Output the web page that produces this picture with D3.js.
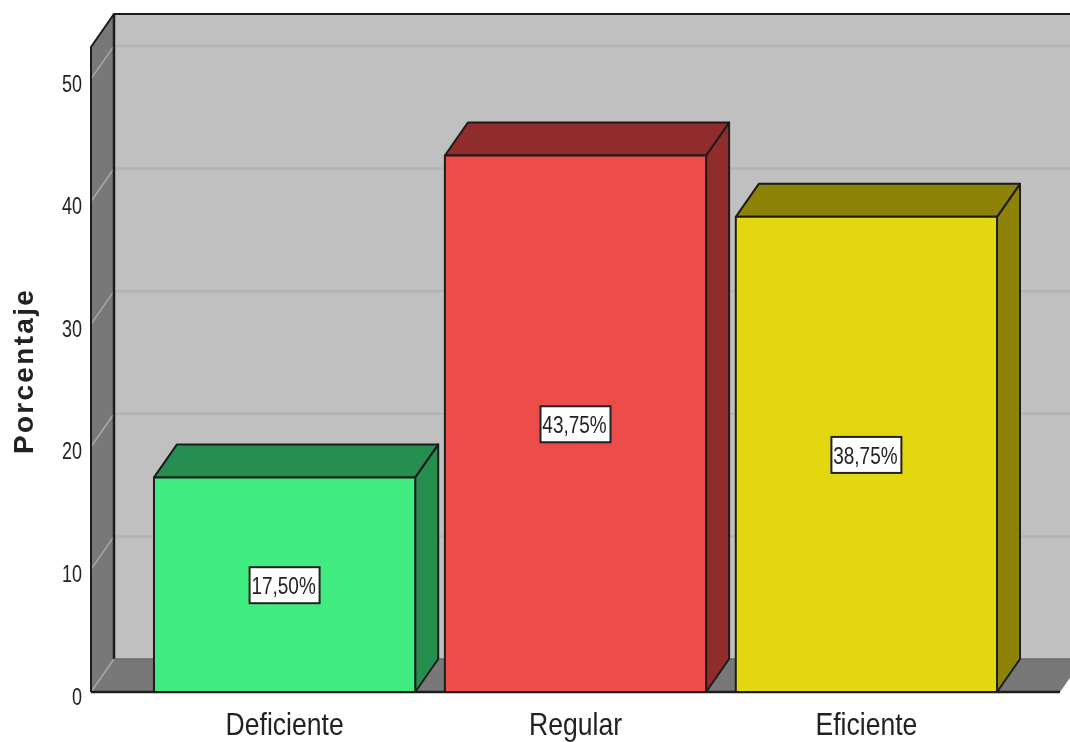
<!DOCTYPE html>
<html>
<head>
  <meta charset="utf-8">
  <script src="https://d3js.org/d3.v7.min.js"></script>
  <style>
  html, body { margin: 0; padding: 0; background: #fff; }
  svg { display: block; filter: blur(0.5px); }
  text { font-family: "Liberation Sans", sans-serif; fill: #222; }
  .axis path { display: none; }
  </style>
</head>
<body>
  <svg id="chart" width="1070" height="742"></svg>
  <script>
    var categories = ["Deficiente", "Regular", "Eficiente"];
    var values = [17.5, 43.75, 38.75];
    var valueLabels = ["17,50%", "43,75%", "38,75%"];
    var frontColors = ["#40ec80", "#ee4b4b", "#e3d80f"];
    var darkColors = ["#268f50", "#902c2c", "#8c8308"];
    var yTicks = [0, 10, 20, 30, 40, 50];
    var yTitle = "Porcentaje";
    var yMax = 52.6;

    var plotLeft = 91, plotRight = 1060, plotBottom = 692, plotTop = 47;
    var dx = 23, dy = -33;
    var stroke = "#1c1c1c";

    var svg = d3.select("#chart");

    var x = d3.scaleBand()
      .domain(categories)
      .range([plotLeft, plotRight])
      .paddingInner(0.102)
      .paddingOuter(0.2165);
    var y = d3.scaleLinear()
      .domain([0, yMax])
      .range([plotBottom, plotTop]);

    function poly(pts, fill, sw) {
      return svg.append("polygon")
        .attr("points", pts.map(function (p) { return p.join(","); }).join(" "))
        .attr("fill", fill)
        .attr("stroke", sw ? stroke : "none")
        .attr("stroke-width", sw || 0)
        .attr("stroke-linejoin", "round");
    }

    // the font has no narrow cut here, so squeeze the glyphs
    function condense(sel, k) {
      sel.each(function () {
        d3.select(this)
          .attr("textLength", this.getComputedTextLength() * k)
          .attr("lengthAdjust", "spacingAndGlyphs");
      });
    }

    // back wall, runs off the right side of the page
    poly([[plotLeft + dx, plotTop + dy], [1070, plotTop + dy], [1070, plotBottom + dy], [plotLeft + dx, plotBottom + dy]], "#c0c0c0");

    // grid on back wall and side wall
    yTicks.forEach(function (t) {
      if (t > 0) {
        svg.append("line")
          .attr("x1", plotLeft + dx).attr("x2", 1070)
          .attr("y1", y(t) + dy).attr("y2", y(t) + dy)
          .attr("stroke", "#b4b4b4").attr("stroke-width", 2.5);
      }
    });

    // floor and side wall
    poly([[plotLeft, plotBottom], [plotRight, plotBottom], [plotRight + dx, plotBottom + dy], [plotLeft + dx, plotBottom + dy]], "#787878");
    poly([[plotLeft, plotTop], [plotLeft + dx, plotTop + dy], [plotLeft + dx, plotBottom + dy], [plotLeft, plotBottom]], "#787878");
    yTicks.forEach(function (t) {
      svg.append("line")
        .attr("x1", plotLeft).attr("x2", plotLeft + dx)
        .attr("y1", y(t)).attr("y2", y(t) + dy)
        .attr("stroke", "#a8a8a8").attr("stroke-width", 1.5);
    });

    // frame lines
    svg.append("path")
      .attr("d", "M" + plotLeft + "," + plotBottom + "V" + plotTop + "L" + (plotLeft + dx) + "," + (plotTop + dy) + "H1070")
      .attr("fill", "none").attr("stroke", stroke).attr("stroke-width", 2);
    svg.append("path")
      .attr("d", "M" + (plotLeft + dx) + "," + (plotTop + dy) + "V" + (plotBottom + dy))
      .attr("fill", "none").attr("stroke", stroke).attr("stroke-width", 2.5);
    svg.append("line")
      .attr("x1", plotLeft + dx).attr("x2", 1070)
      .attr("y1", plotBottom + dy).attr("y2", plotBottom + dy)
      .attr("stroke", "#6a6a6a").attr("stroke-width", 1.5);
    svg.append("line")
      .attr("x1", plotLeft).attr("x2", plotRight)
      .attr("y1", plotBottom).attr("y2", plotBottom)
      .attr("stroke", stroke).attr("stroke-width", 2.5);

    // bars
    categories.forEach(function (c, i) {
      var x0 = x(c), x1 = x0 + x.bandwidth(), y0 = y(values[i]);
      poly([[x1, y0], [x1 + dx, y0 + dy], [x1 + dx, plotBottom + dy], [x1, plotBottom]], darkColors[i], 2);
      poly([[x0, y0], [x0 + dx, y0 + dy], [x1 + dx, y0 + dy], [x1, y0]], darkColors[i], 2);
      poly([[x0, y0], [x1, y0], [x1, plotBottom], [x0, plotBottom]], frontColors[i], 2);

      var cx = x0 + x.bandwidth() / 2, cy = (y0 + plotBottom) / 2 + 0.5;
      svg.append("rect")
        .attr("x", cx - 35).attr("y", cy - 18)
        .attr("width", 70).attr("height", 36)
        .attr("fill", "#fff").attr("stroke", "#222").attr("stroke-width", 2);
      svg.append("text")
        .attr("class", "value-label")
        .attr("x", cx - 1).attr("y", cy + 9)
        .attr("text-anchor", "middle")
        .style("font-size", "24px")
        .text(valueLabels[i]);
    });
    condense(svg.selectAll(".value-label"), 0.79);

    // axes
    var yAxis = d3.axisLeft(y).tickValues(yTicks).tickSize(0).tickPadding(0);
    var gy = svg.append("g")
      .attr("class", "axis")
      .attr("transform", "translate(82,4.5)")
      .call(yAxis);
    gy.selectAll("text").style("font-size", "24px");
    condense(gy.selectAll("text"), 0.75);

    var xAxis = d3.axisBottom(x).tickSize(0).tickPadding(0);
    var gx = svg.append("g")
      .attr("class", "axis")
      .attr("transform", "translate(0,712)")
      .call(xAxis);
    gx.selectAll("text").style("font-size", "32px").attr("y", 0);
    condense(gx.selectAll("text"), 0.83);

    svg.append("text")
      .attr("transform", "translate(33,371) rotate(-90)")
      .attr("text-anchor", "middle")
      .style("font-weight", "bold")
      .style("font-size", "28px")
      .attr("letter-spacing", "2.3")
      .text(yTitle);
  </script>
</body>
</html>
